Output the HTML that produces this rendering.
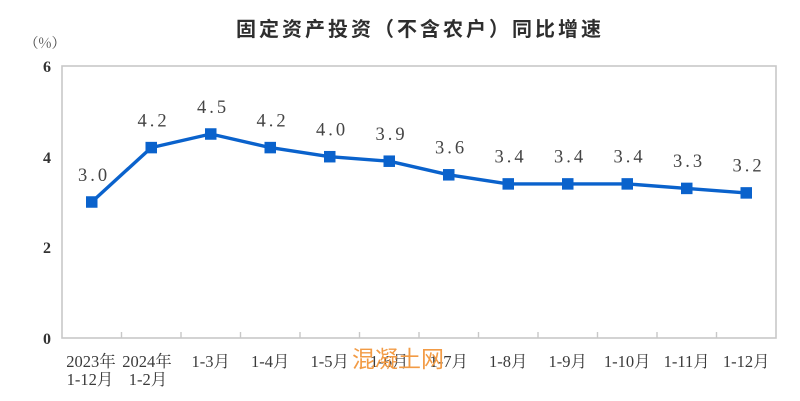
<!DOCTYPE html>
<html>
<head>
<meta charset="utf-8">
<style>
  html, body { margin: 0; padding: 0; background: #ffffff; }
  body { width: 800px; height: 401px; overflow: hidden; }
  svg { display: block; }
</style>
</head>
<body>
<svg width="800" height="401" viewBox="0 0 800 401" xmlns="http://www.w3.org/2000/svg">
  <rect x="0" y="0" width="800" height="401" fill="#ffffff"/>

  <!-- Title -->
  <text x="420" y="36" text-anchor="middle" font-family="'Liberation Sans','Noto Sans CJK SC',sans-serif" font-size="20" font-weight="700" letter-spacing="3" fill="#2e2e2e">固定资产投资（不含农户）同比增速</text>

  <!-- Unit -->
  <text x="45" y="48" text-anchor="middle" font-family="'Noto Serif CJK SC',serif" font-size="14" fill="#444">（%）</text>

  <!-- Plot frame -->
  <rect x="62" y="66" width="714" height="272" fill="none" stroke="#c8c8c8" stroke-width="1.6"/>

  <!-- Bottom ticks -->
  <g stroke="#c8c8c8" stroke-width="1.4">
    <line x1="121.5" y1="332" x2="121.5" y2="338"/>
    <line x1="181" y1="332" x2="181" y2="338"/>
    <line x1="240.5" y1="332" x2="240.5" y2="338"/>
    <line x1="300" y1="332" x2="300" y2="338"/>
    <line x1="359.5" y1="332" x2="359.5" y2="338"/>
    <line x1="419" y1="332" x2="419" y2="338"/>
    <line x1="478.5" y1="332" x2="478.5" y2="338"/>
    <line x1="538" y1="332" x2="538" y2="338"/>
    <line x1="597.5" y1="332" x2="597.5" y2="338"/>
    <line x1="657" y1="332" x2="657" y2="338"/>
    <line x1="716.5" y1="332" x2="716.5" y2="338"/>
  </g>

  <!-- Y tick labels -->
  <g font-family="'Liberation Serif',serif" font-size="16" font-weight="700" fill="#333" text-anchor="end">
    <text x="51" y="72">6</text>
    <text x="51" y="163">4</text>
    <text x="51" y="253">2</text>
    <text x="51" y="344">0</text>
  </g>

  <!-- X labels -->
  <g font-family="'Liberation Serif','Noto Serif CJK SC',serif" font-size="16.5" fill="#3a3a3a" text-anchor="middle">
    <text x="91" y="367">2023年</text>
    <text x="90" y="385">1-12月</text>
    <text x="147" y="367">2024年</text>
    <text x="148" y="385">1-2月</text>
    <text x="210.75" y="367">1-3月</text>
    <text x="270.25" y="367">1-4月</text>
    <text x="329.75" y="367">1-5月</text>
    <text x="389.25" y="367">1-6月</text>
    <text x="448.75" y="367">1-7月</text>
    <text x="508.25" y="367">1-8月</text>
    <text x="567.75" y="367">1-9月</text>
    <text x="627.25" y="367">1-10月</text>
    <text x="686.75" y="367">1-11月</text>
    <text x="746.25" y="367">1-12月</text>
  </g>

  <!-- Series line -->
  <polyline fill="none" stroke="#0a62cc" stroke-width="3.4" stroke-linejoin="round"
    points="91.75,202 151.25,147.6 210.75,134 270.25,147.6 329.75,156.7 389.25,161.2 448.75,174.8 508.25,183.9 567.75,183.9 627.25,183.9 686.75,188.4 746.25,192.9"/>

  <!-- Markers -->
  <g fill="#0a62cc">
    <rect x="86" y="196.25" width="11.5" height="11.5"/>
    <rect x="145.5" y="141.85" width="11.5" height="11.5"/>
    <rect x="205" y="128.25" width="11.5" height="11.5"/>
    <rect x="264.5" y="141.85" width="11.5" height="11.5"/>
    <rect x="324" y="150.95" width="11.5" height="11.5"/>
    <rect x="383.5" y="155.45" width="11.5" height="11.5"/>
    <rect x="443" y="169.05" width="11.5" height="11.5"/>
    <rect x="502.5" y="178.15" width="11.5" height="11.5"/>
    <rect x="562" y="178.15" width="11.5" height="11.5"/>
    <rect x="621.5" y="178.15" width="11.5" height="11.5"/>
    <rect x="681" y="182.65" width="11.5" height="11.5"/>
    <rect x="740.5" y="187.15" width="11.5" height="11.5"/>
  </g>

  <!-- Data labels -->
  <g font-family="'Liberation Serif',serif" font-size="18.5" fill="#444" text-anchor="middle" letter-spacing="3">
    <text x="94" y="181">3.0</text>
    <text x="153.5" y="126.5">4.2</text>
    <text x="213" y="113">4.5</text>
    <text x="272.5" y="126.5">4.2</text>
    <text x="332" y="135.5">4.0</text>
    <text x="391.5" y="140">3.9</text>
    <text x="451" y="153.5">3.6</text>
    <text x="510.5" y="162.5">3.4</text>
    <text x="570" y="162.5">3.4</text>
    <text x="629.5" y="162.5">3.4</text>
    <text x="689" y="167">3.3</text>
    <text x="748.5" y="171.5">3.2</text>
  </g>

  <!-- Watermark -->
  <text x="352" y="367" font-family="'Liberation Sans','Noto Sans CJK SC',sans-serif" font-size="23" fill="#f29b45">混凝土网</text>
</svg>
</body>
</html>
